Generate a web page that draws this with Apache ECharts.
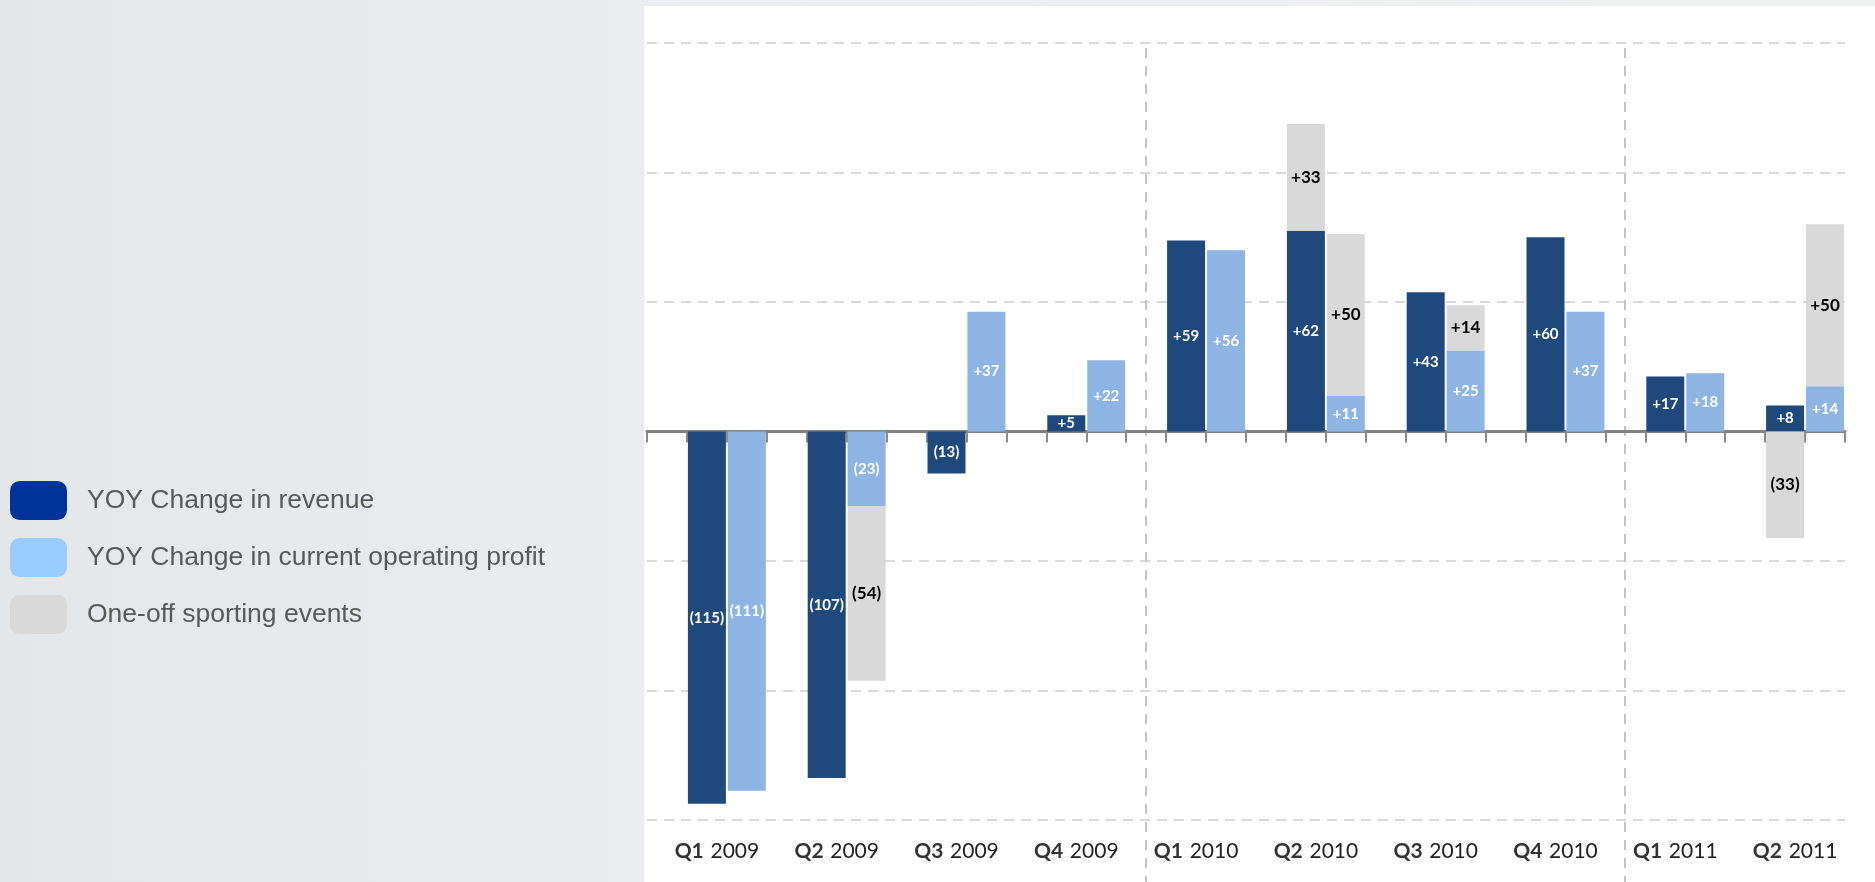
<!DOCTYPE html>
<html>
<head>
<meta charset="utf-8">
<script src="https://cdn.jsdelivr.net/npm/echarts@6/dist/echarts.min.js"></script>
<style>
  html, body { margin: 0; padding: 0; width: 1875px; height: 882px; overflow: hidden; }
  body { background: linear-gradient(to right, #e4e7ea 0%, #eaecef 35%, #eef0f2 100%); position: relative; }
  #panel { position: absolute; left: 644px; top: 6px; right: 0; bottom: 0; background: #ffffff; }
  #chart { position: absolute; left: 0; top: 0; width: 1875px; height: 882px; }
</style>
</head>
<body>
<div id="panel"></div>
<div id="chart"></div>
<script>
// ---- Data ----
const quarters = ['Q1', 'Q2', 'Q3', 'Q4', 'Q1', 'Q2', 'Q3', 'Q4', 'Q1', 'Q2'];
const years = ['2009', '2009', '2009', '2009', '2010', '2010', '2010', '2010', '2011', '2011'];
const revenue = [-115, -107, -13, 5, 59, 62, 43, 60, 17, 8];
const profit = [-111, -23, 37, 22, 56, 11, 25, 37, 18, 14];
const sportingOnRevenue = [null, null, null, null, null, 33, null, null, null, -33];
const sportingOnProfit = [null, -54, null, null, null, 50, 14, null, null, 50];
const yTicks = [-120, -80, -40, 0, 40, 80, 120];
const dividerBeforeQuarter = [4, 8];
const seriesNames = ['YOY Change in revenue', 'YOY Change in current operating profit', 'One-off sporting events'];

// ---- Build slot-based category axis: each quarter = gap, revenue, profit ----
const slots = [];
quarters.forEach((q, i) => { slots.push(i + '-gap', i + '-rev', i + '-prof'); });
function toSlots(values, offset) {
  const out = slots.map(() => '-');
  values.forEach((v, i) => { if (v !== null) out[3 * i + offset] = v; });
  return out;
}
const quarterLabels = quarters.map((q, i) => q + '|' + years[i]);

function fmt(v) {
  const n = v.value;
  if (n === '-' || n === null) return '';
  return n > 0 ? '+' + n : '(' + (-n) + ')';
}

const COLORS = { rev: '#1F497D', prof: '#8EB4E3', sport: '#D9D9D9' };
const whiteLabel = { show: true, position: 'inside', formatter: fmt, color: '#ffffff', fontFamily: 'Lato', fontWeight: 'bold', fontSize: 15 };
const blackLabel = { show: true, position: 'inside', formatter: fmt, color: '#000000', fontFamily: 'Lato', fontWeight: 'bold', fontSize: 17 };

const chart = echarts.init(document.getElementById('chart'), null, { renderer: 'canvas' });
const option = {
  backgroundColor: 'transparent',
  animation: false,
  grid: { left: 647, top: 43, width: 1198, height: 777, containLabel: false },
  legend: {
    orient: 'vertical', left: 10, top: 481, padding: 0,
    itemWidth: 57, itemHeight: 39, itemGap: 18,
    icon: 'roundRect',
    textStyle: { fontFamily: 'Liberation Sans', fontSize: 26.5, color: '#595959', padding: [0, 0, 0, 15] },
    data: [
      { name: seriesNames[0], itemStyle: { color: '#003399' } },
      { name: seriesNames[1], itemStyle: { color: '#99CCFF' } },
      { name: seriesNames[2], itemStyle: { color: '#D9D9D9' } }
    ]
  },
  xAxis: [
    {
      type: 'category', data: slots, gridIndex: 0,
      axisLine: { show: true, onZero: true, lineStyle: { color: '#808080', width: 3 } },
      axisTick: { show: true, interval: 0, length: 11, lineStyle: { color: '#8a8a8a', width: 2 } },
      axisLabel: { show: false },
      splitLine: { show: false }
    },
    {
      type: 'category', data: quarterLabels, gridIndex: 0, position: 'bottom',
      axisLine: { show: false, onZero: false }, axisTick: { show: false }, splitLine: { show: false },
      axisLabel: {
        margin: 21, interval: 0, padding: [0, 0, 0, 20],
        formatter: (v) => { const p = v.split('|'); return '{q|' + p[0] + '}  {y|' + p[1] + '}'; },
        rich: {
          q: { fontFamily: 'Lato', fontWeight: 'bold', fontSize: 21, color: '#333333' },
          y: { fontFamily: 'Lato', fontSize: 21, color: '#222222' }
        }
      }
    }
  ],
  yAxis: {
    type: 'value', min: yTicks[0], max: yTicks[yTicks.length - 1], interval: yTicks[1] - yTicks[0],
    axisLine: { show: false }, axisTick: { show: false }, axisLabel: { show: false },
    splitLine: { show: true, lineStyle: { color: '#d9d9d9', width: 2, type: [10, 7] } }
  },
  series: [
    { name: seriesNames[0], type: 'bar', stack: 'all', barWidth: 38, data: toSlots(revenue, 1),
      itemStyle: { color: COLORS.rev }, label: whiteLabel },
    { name: seriesNames[1], type: 'bar', stack: 'all', barWidth: 38, data: toSlots(profit, 2),
      itemStyle: { color: COLORS.prof }, label: whiteLabel },
    { name: seriesNames[2], type: 'bar', stack: 'all', barWidth: 38, data: toSlots(sportingOnRevenue, 1),
      itemStyle: { color: COLORS.sport }, label: blackLabel },
    { name: seriesNames[2], type: 'bar', stack: 'all', barWidth: 38, data: toSlots(sportingOnProfit, 2),
      itemStyle: { color: COLORS.sport }, label: blackLabel }
  ]
};
chart.setOption(option);

// vertical dashed dividers at the centre of the gap slot of the given quarters
const graphics = dividerBeforeQuarter.map((qi) => {
  const top = chart.convertToPixel({ gridIndex: 0 }, [slots[3 * qi], yTicks[yTicks.length - 1]]);
  const x = Math.round(top[0]);
  return {
    type: 'line', silent: true, z: 0,
    shape: { x1: x, y1: top[1] + 5, x2: x, y2: 882 },
    style: { stroke: '#c4c4c4', lineWidth: 2, lineDash: [10, 8] }
  };
});
chart.setOption({ graphic: graphics });
</script>
</body>
</html>
